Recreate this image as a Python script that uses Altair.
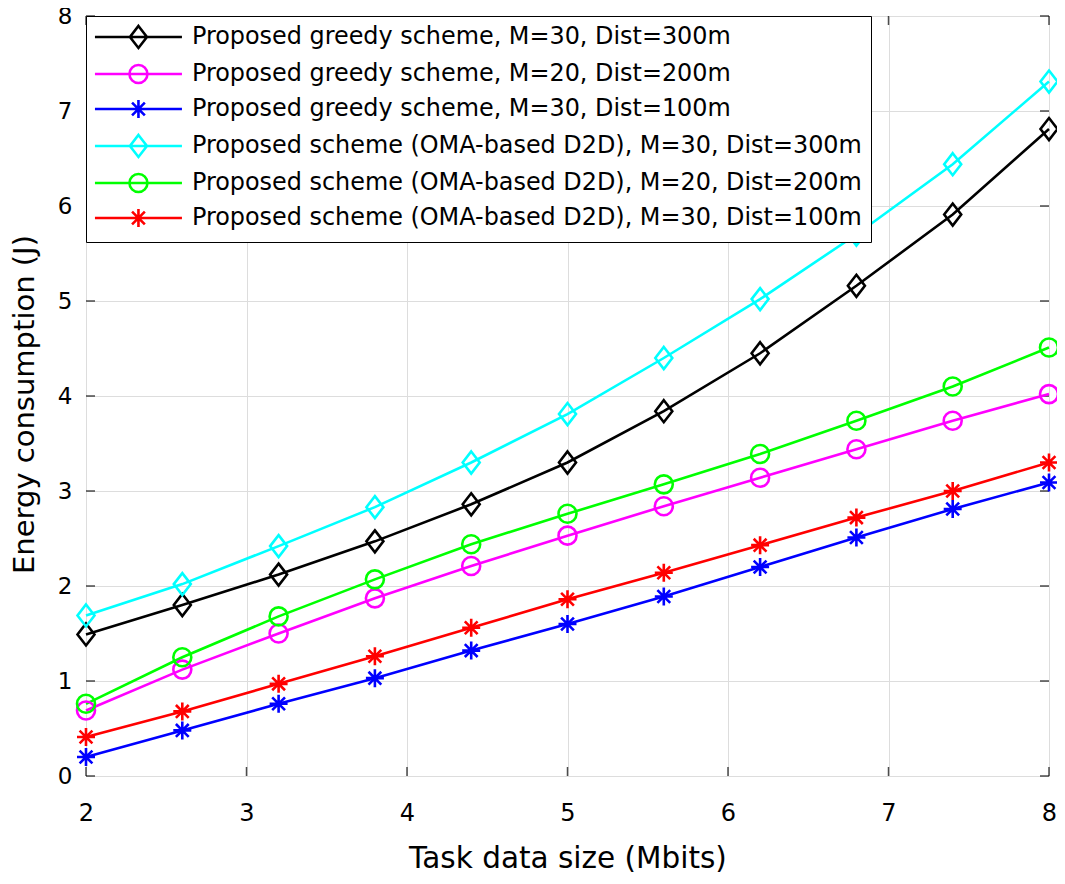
import altair as alt
import pandas as pd

# ---------------- data ----------------
task_size = [2.0, 2.6, 3.2, 3.8, 4.4, 5.0, 5.6, 6.2, 6.8, 7.4, 8.0]

series_names = [
    "Proposed greedy scheme, M=30, Dist=300m",
    "Proposed greedy scheme, M=20, Dist=200m",
    "Proposed greedy scheme, M=30, Dist=100m",
    "Proposed scheme (OMA-based D2D), M=30, Dist=300m",
    "Proposed scheme (OMA-based D2D), M=20, Dist=200m",
    "Proposed scheme (OMA-based D2D), M=30, Dist=100m",
]

greedy_m30_300 = [1.49, 1.80, 2.12, 2.47, 2.86, 3.30, 3.84, 4.45, 5.16, 5.91, 6.81]
greedy_m20_200 = [0.69, 1.12, 1.50, 1.87, 2.21, 2.53, 2.84, 3.14, 3.44, 3.74, 4.02]
greedy_m30_100 = [0.20, 0.48, 0.76, 1.03, 1.32, 1.60, 1.89, 2.20, 2.51, 2.81, 3.09]
oma_m30_300 = [1.69, 2.02, 2.42, 2.83, 3.30, 3.81, 4.40, 5.02, 5.70, 6.44, 7.31]
oma_m20_200 = [0.76, 1.25, 1.68, 2.07, 2.44, 2.76, 3.07, 3.39, 3.74, 4.10, 4.51]
oma_m30_100 = [0.41, 0.68, 0.97, 1.26, 1.56, 1.86, 2.14, 2.43, 2.72, 3.00, 3.30]

series_values = [greedy_m30_300, greedy_m20_200, greedy_m30_100,
                 oma_m30_300, oma_m20_200, oma_m30_100]

series_colors = ["#000000", "#ff00ff", "#0000ff", "#00ffff", "#00ff00", "#ff0000"]

x_ticks = [2, 3, 4, 5, 6, 7, 8]
y_ticks = [0, 1, 2, 3, 4, 5, 6, 7, 8]

# ---------------- marker shapes (custom symbol paths) ----------------
DIAMOND = "M0,-1.1L0.85,0L0,1.1L-0.85,0Z"
CIRCLE = "M0.9,0A0.9,0.9,0,1,1,-0.9,0A0.9,0.9,0,1,1,0.9,0Z"
ASTER = "M-0.9,0L0.9,0M0,-0.9L0,0.9M-0.64,-0.64L0.64,0.64M-0.64,0.64L0.64,-0.64"
plot_shapes = [DIAMOND, CIRCLE, ASTER, DIAMOND, CIRCLE, ASTER]

# legend symbols: line segment plus marker
LINE = "M-1.2,0L7.5,0"
L_DIAMOND = LINE + "M3.15,-1.1L4,0L3.15,1.1L2.3,0Z"
L_CIRCLE = LINE + "M4.05,0A0.9,0.9,0,1,1,2.25,0A0.9,0.9,0,1,1,4.05,0Z"
L_ASTER = LINE + "M3.15,-0.9L3.15,0.9M2.51,-0.64L3.79,0.64M2.51,0.64L3.79,-0.64"
legend_shapes = [L_DIAMOND, L_CIRCLE, L_ASTER, L_DIAMOND, L_CIRCLE, L_ASTER]

rows = []
for name, vals in zip(series_names, series_values):
    for xv, yv in zip(task_size, vals):
        rows.append({"series": name, "x": xv, "y": yv})
df = pd.DataFrame(rows)

xt_df = pd.DataFrame({"t": x_ticks})
yt_df = pd.DataFrame({"t": y_ticks})

W, H = 963, 760
FONT = "DejaVu Sans"

x_scale = alt.Scale(domain=[2, 8], nice=False, zero=False)
y_scale = alt.Scale(domain=[0, 8], nice=False, zero=False)

x_axis = alt.Axis(values=x_ticks, format="d", title="Task data size (Mbits)",
                  grid=True, ticks=False, tickSize=0, domain=False,
                  labelFlush=False, labelOverlap=False,
                  labelPadding=44, labelBaseline="alphabetic",
                  labelFontSize=24, labelFont=FONT, labelColor="black",
                  titleFontSize=29.5, titleFont=FONT, titleFontWeight="normal",
                  titleColor="black", titleBaseline="alphabetic", titleY=91)
y_axis = alt.Axis(values=y_ticks, format="d", title="Energy consumption (J)",
                  grid=True, ticks=False, tickSize=0, domain=False,
                  labelFlush=False, labelOverlap=False,
                  labelPadding=14, labelFontSize=23, labelFont=FONT,
                  labelColor="black",
                  titleFontSize=29, titleFont=FONT, titleFontWeight="normal",
                  titleColor="black", titleBaseline="alphabetic",
                  titleX=-53, titleY=388)

color_scale = alt.Scale(domain=series_names, range=series_colors)

legend_def = alt.Legend(
    title=None, orient="top-left", offset=0, padding=9,
    strokeColor="black", fillColor="white",
    labelFont=FONT, labelFontSize=23.9, labelColor="black",
    labelLimit=2000, labelOffset=73, rowPadding=5,
    symbolSize=400, symbolStrokeWidth=2.6,
)

base = alt.Chart(df)

lines = base.mark_line(strokeWidth=2.6).encode(
    x=alt.X("x:Q", scale=x_scale, axis=x_axis),
    y=alt.Y("y:Q", scale=y_scale, axis=y_axis),
    color=alt.Color("series:N", scale=color_scale, legend=None),
    detail="series:N",
)

points = base.mark_point(filled=False, strokeWidth=2.6, size=400, opacity=1).encode(
    x=alt.X("x:Q", scale=x_scale),
    y=alt.Y("y:Q", scale=y_scale),
    color=alt.Color("series:N", scale=color_scale, legend=None),
    shape=alt.Shape("series:N",
                    scale=alt.Scale(domain=series_names, range=plot_shapes),
                    legend=None),
)

legend_layer = base.transform_filter(alt.datum.x < 0).mark_point(
    filled=False, strokeWidth=2.6, size=400, opacity=1
).encode(
    x=alt.X("x:Q", scale=x_scale),
    y=alt.Y("y:Q", scale=y_scale),
    stroke=alt.Stroke("series:N",
                      scale=alt.Scale(domain=series_names, range=series_colors),
                      legend=legend_def),
    shape=alt.Shape("series:N",
                    scale=alt.Scale(domain=series_names, range=legend_shapes),
                    legend=legend_def),
)

tick_len = 9
xt_bottom = alt.Chart(xt_df).mark_tick(orient="vertical", size=tick_len, thickness=1.5,
                                       color="black", yOffset=-tick_len / 2).encode(
    x=alt.X("t:Q", scale=x_scale), y=alt.datum(0))
xt_top = alt.Chart(xt_df).mark_tick(orient="vertical", size=tick_len, thickness=1.5,
                                    color="black", yOffset=tick_len / 2).encode(
    x=alt.X("t:Q", scale=x_scale), y=alt.datum(8))
yt_left = alt.Chart(yt_df).mark_tick(orient="horizontal", size=tick_len, thickness=1.5,
                                     color="black", xOffset=tick_len / 2).encode(
    y=alt.Y("t:Q", scale=y_scale), x=alt.datum(2))
yt_right = alt.Chart(yt_df).mark_tick(orient="horizontal", size=tick_len, thickness=1.5,
                                      color="black", xOffset=-tick_len / 2).encode(
    y=alt.Y("t:Q", scale=y_scale), x=alt.datum(8))

chart = alt.layer(
    xt_bottom, xt_top, yt_left, yt_right, lines, points, legend_layer
).resolve_scale(
    shape="independent", stroke="independent"
).properties(
    width=W, height=H,
    autosize=alt.AutoSizeParams(type="none"),
    padding={"left": 78, "top": 8, "right": 8, "bottom": 100},
).configure_view(
    stroke="black", strokeWidth=1.5, fill="white"
).configure_axis(
    gridColor="#dedede", gridWidth=1.6, gridOpacity=1
).configure(background="white")

chart.save("out.html", embed_options={"renderer": "svg", "actions": False})
